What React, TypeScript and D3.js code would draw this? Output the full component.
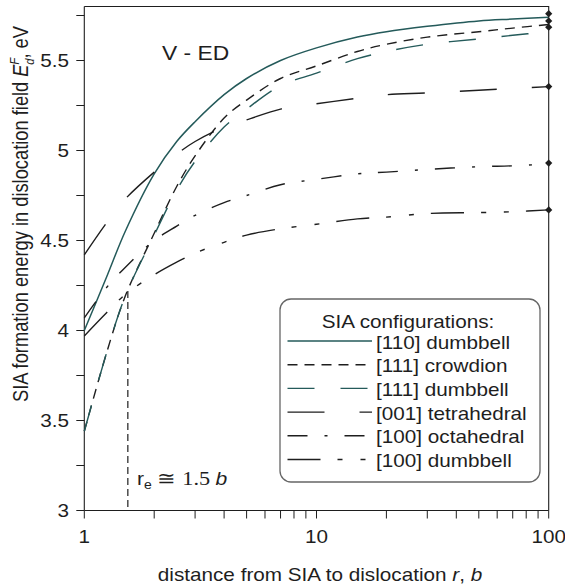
import React from "react";
import * as d3 from "d3";

// ---- data ----
const rValues = [1, 1.25, 1.5, 2, 2.5, 3, 4, 5, 7, 10, 15, 20, 30, 50, 70, 100];
const dumbbell110 = [4.0, 4.3, 4.55, 4.87, 5.05, 5.16, 5.31, 5.4, 5.5, 5.57, 5.63, 5.66, 5.69, 5.72, 5.73, 5.74];
const crowdion111 = [3.44, 3.88, 4.19, 4.54, 4.8, 4.97, 5.18, 5.28, 5.4, 5.47, 5.55, 5.59, 5.63, 5.66, 5.68, 5.7];
const dumbbell111 = [3.44, 3.88, 4.19, 4.53, 4.78, 4.94, 5.13, 5.23, 5.36, 5.43, 5.51, 5.55, 5.59, 5.62, 5.64, 5.66];
const tetrahedral001 = [4.42, 4.6, 4.73, 4.88, 4.98, 5.05, 5.13, 5.17, 5.23, 5.26, 5.29, 5.31, 5.32, 5.335, 5.345, 5.355];
const octahedral100 = [4.07, 4.24, 4.35, 4.5, 4.58, 4.64, 4.71, 4.75, 4.81, 4.84, 4.87, 4.88, 4.895, 4.91, 4.915, 4.925];
const dumbbell100 = [3.97, 4.1, 4.2, 4.31, 4.38, 4.43, 4.49, 4.53, 4.565, 4.59, 4.62, 4.63, 4.65, 4.655, 4.66, 4.67];
const limitValues = [5.76, 5.72, 5.685, 5.355, 4.93, 4.67];
const limitR = 100;
const seriesNames = [
  "[110] dumbbell",
  "[111] crowdion",
  "[111] dumbbell",
  "[001] tetrahedral",
  "[100] octahedral",
  "[100] dumbbell",
];
const reRadius = 1.54;
const reEnergy = 4.22;
const xTickLabels = [1, 10, 100];
const yTickLabels = [3, 3.5, 4, 4.5, 5, 5.5];

// ---- styles ----
const TEAL = "#245a5a";
const INK = "#1e1e1e";
const seriesStyles = [
  { color: TEAL, dash: "", width: 1.5 },
  { color: INK, dash: "10,7", width: 1.4 },
  { color: TEAL, dash: "27,26", width: 1.4 },
  { color: INK, dash: "37,35", width: 1.4 },
  { color: INK, dash: "20,17,3,17", width: 1.4 },
  { color: INK, dash: "33,17,5,18,5,17", width: 1.4 },
];
const seriesData = [dumbbell110, crowdion111, dumbbell111, tetrahedral001, octahedral100, dumbbell100];

const W = 565;
const H = 586;
const X0 = 84.3, X1 = 548.7, Y0 = 510.5, Y1 = 6.5;
const SX = 1.17;
const FONT = "'Liberation Sans', Arial, sans-serif";

function T({ x, y, anchor = "start", size = 17.7, rotate = 0, children, fill = INK, family = FONT }: any) {
  const scale = rotate ? `scale(1,${SX})` : `scale(${SX},1)`;
  const tr = `translate(${x},${y})${rotate ? ` rotate(${rotate})` : ""} ${scale}`;
  return (
    <text transform={tr} textAnchor={anchor} fontSize={size} fontFamily={family} fill={fill}>
      {children}
    </text>
  );
}

export default function App() {
  const x = d3.scaleLog().domain([1, 100]).range([X0, X1]);
  const y = d3.scaleLinear().domain([3, 5.8]).range([Y0, Y1]);
  const line = d3
    .line<[number, number]>()
    .x((d) => x(d[0]))
    .y((d) => y(d[1]))
    .curve(d3.curveCatmullRom.alpha(0.5));

  const xMinor: number[] = [];
  for (let dec = 1; dec < 100; dec *= 10) for (let k = 1; k < 10; k++) xMinor.push(k * dec);
  xMinor.push(100);
  const yMinor = d3.range(3, 5.8, 0.25).map((v) => +v.toFixed(2));

  const diamond = d3.symbol(d3.symbolSquare, 26)() as string;

  const legX = 280, legY = 299, legW = 260, legH = 183;
  const rowY0 = 341, rowStep = 23.7;

  return (
    <svg width={W} height={H} style={{ position: "absolute", left: 0, top: 0, background: "#fff" }}>
      <rect x={0} y={0} width={W} height={H} fill="#fff" />
      {/* frame */}
      <path d={`M${X0},${Y1}H${X1}V${Y0}`} fill="none" stroke={INK} strokeWidth={1.1} />
      <line x1={X0} y1={Y1} x2={X0} y2={Y0} stroke={INK} strokeWidth={1.1} />
      <line x1={X0} y1={Y0} x2={X1} y2={Y0} stroke={INK} strokeWidth={1.1} />
      {/* ticks */}
      {yMinor.map((v) => (
        <line key={"yt" + v} x1={X0 - 8} x2={X0} y1={y(v)} y2={y(v)} stroke={INK} strokeWidth={1} />
      ))}
      {xMinor.map((v) => (
        <line key={"xt" + v} x1={x(v)} x2={x(v)} y1={Y0} y2={Y0 + 8} stroke={INK} strokeWidth={1} />
      ))}
      {yTickLabels.map((v) => (
        <T key={"yl" + v} x={69} y={y(v) + 6.3} anchor="end">
          {String(v)}
        </T>
      ))}
      {xTickLabels.map((v) => (
        <T key={"xl" + v} x={x(v)} y={543} anchor="middle">
          {String(v)}
        </T>
      ))}
      {/* axis titles */}
      <T x={320} y={581} anchor="middle">
        distance from SIA to dislocation <tspan fontStyle="italic">r</tspan>, <tspan fontStyle="italic">b</tspan>
      </T>
      <T x={28} y={214} anchor="middle" rotate={-90} size={18.3}>
        SIA formation energy in dislocation field <tspan fontStyle="italic">E</tspan>
        <tspan fontStyle="italic" fontSize={11} dy={-8}>F</tspan>
        <tspan fontStyle="italic" fontSize={11} dx={-7} dy={13}>d</tspan>
        <tspan dy={-5}>, eV</tspan>
      </T>
      <T x={162} y={60} size={19.5}>
        V - ED
      </T>
      {/* r_e marker */}
      <line
        x1={x(reRadius)}
        x2={x(reRadius)}
        y1={y(reEnergy)}
        y2={Y0}
        stroke={INK}
        strokeWidth={1.2}
        strokeDasharray="7,4"
      />
      <T x={137} y={485} size={18}>
        r<tspan fontSize={12} dy={4}>e</tspan>
        <tspan dy={-4} fontFamily="'Liberation Serif', 'Times New Roman', serif" fontSize={19}> ≅ 1.5 </tspan>
        <tspan fontStyle="italic">b</tspan>
      </T>
      {/* curves */}
      {seriesData.map((vals, i) => (
        <path
          key={"s" + i}
          d={line(rValues.map((r, j) => [r, vals[j]]) as [number, number][]) as string}
          fill="none"
          stroke={seriesStyles[i].color}
          strokeWidth={seriesStyles[i].width}
          strokeDasharray={seriesStyles[i].dash || undefined}
        />
      ))}
      {/* limit diamonds */}
      {limitValues.map((v, i) => (
        <path key={"d" + i} d={diamond} transform={`translate(${x(limitR)},${y(v)}) rotate(45)`} fill={INK} />
      ))}
      {/* legend */}
      <rect x={legX} y={legY} width={legW} height={legH} rx={11} ry={11} fill="#fff" stroke="#666" strokeWidth={1.3} />
      <T x={408} y={328} anchor="middle">
        SIA configurations:
      </T>
      {seriesNames.map((name, i) => {
        const ly = rowY0 + i * rowStep;
        return (
          <g key={"lg" + i}>
            <line
              x1={287.5}
              x2={372}
              y1={ly}
              y2={ly}
              stroke={seriesStyles[i].color}
              strokeWidth={seriesStyles[i].width}
              strokeDasharray={seriesStyles[i].dash || undefined}
            />
            <T x={376} y={ly + 7.5}>
              {name}
            </T>
          </g>
        );
      })}
    </svg>
  );
}
